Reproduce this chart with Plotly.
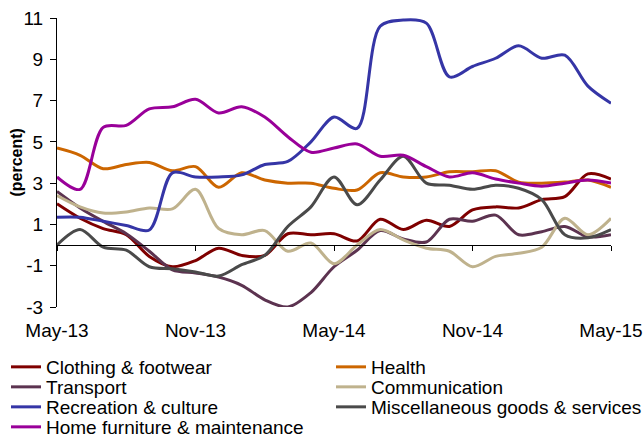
import plotly.graph_objects as go

# monthly categories May-13 .. May-15
months = ["May-13", "Jun-13", "Jul-13", "Aug-13", "Sep-13", "Oct-13", "Nov-13",
          "Dec-13", "Jan-14", "Feb-14", "Mar-14", "Apr-14", "May-14", "Jun-14",
          "Jul-14", "Aug-14", "Sep-14", "Oct-14", "Nov-14", "Dec-14", "Jan-15",
          "Feb-15", "Mar-15", "Apr-15", "May-15"]
tick_labels = ["May-13", "Nov-13", "May-14", "Nov-14", "May-15"]
y_ticks = [-3, -1, 1, 3, 5, 7, 9, 11]
y_tick_text = ["-3", "-1", "1", "3", "5", "7", "9", "11"]

# values (percent)
clothing = [2.0, 1.3, 0.8, 0.5, -0.55, -1.05, -0.75, -0.15, -0.5, -0.5, 0.55, 0.5,
            0.55, 0.2, 1.25, 0.75, 1.2, 0.9, 1.7, 1.85, 1.8, 2.2, 2.35, 3.45, 3.2]
health = [4.7, 4.35, 3.7, 3.9, 4.0, 3.6, 3.8, 2.8, 3.5, 3.15, 3.0, 3.0,
          2.75, 2.67, 3.5, 3.3, 3.3, 3.55, 3.55, 3.6, 3.05, 3.0, 3.05, 3.15, 2.8]
transport = [2.6, 1.8, 1.15, 0.55, -0.3, -1.2, -1.35, -1.55, -1.95, -2.65, -3.0, -2.3,
             -1.05, -0.25, 0.7, 0.3, 0.15, 1.25, 1.15, 1.45, 0.5, 0.65, 0.9, 0.4, 0.5]
communication = [2.4, 1.85, 1.55, 1.6, 1.8, 1.75, 2.7, 0.8, 0.5, 0.7, -0.3, 0.1,
                 -0.9, 0.0, 0.75, 0.25, -0.15, -0.3, -1.05, -0.55, -0.4, -0.1, 1.3, 0.5, 1.3]
recreation = [1.35, 1.35, 1.15, 0.95, 0.73, 3.5, 3.3, 3.3, 3.4, 3.9, 4.05, 5.0,
              6.2, 5.65, 10.6, 10.9, 10.75, 8.15, 8.65, 9.05, 9.65, 9.05, 9.2, 7.7, 6.87]
misc = [0.0, 0.75, -0.1, -0.25, -1.05, -1.15, -1.3, -1.5, -0.95, -0.5, 0.9, 1.85,
        3.3, 1.95, 3.15, 4.3, 3.0, 2.9, 2.7, 2.9, 2.75, 2.2, 0.5, 0.35, 0.75]
home = [3.3, 2.7, 5.7, 5.8, 6.6, 6.7, 7.06, 6.4, 6.7, 6.2, 5.25, 4.5,
        4.7, 4.9, 4.3, 4.35, 3.8, 3.3, 3.5, 3.2, 3.0, 2.85, 3.0, 3.15, 3.0]

series = [
    ("Clothing & footwear", clothing, "#7f0000"),
    ("Health", health, "#cc6600"),
    ("Transport", transport, "#5c3350"),
    ("Communication", communication, "#bfb28d"),
    ("Recreation & culture", recreation, "#3535a6"),
    ("Miscellaneous goods & services", misc, "#4a4a4a"),
    ("Home furniture & maintenance", home, "#990099"),
]

W, H = 644, 437
L, R, T, B = 57, 33, 18, 130
# legend grid: two columns, four rows (one small legend per entry)
col_left = [6, 331]
row_mid = [367, 387, 407, 427]

fig = go.Figure()
legends = {}
for i, (name, vals, color) in enumerate(series):
    key = "legend" if i == 0 else f"legend{i + 1}"
    fig.add_trace(go.Scatter(
        x=months, y=vals, name=name, mode="lines", legend=key,
        line=dict(color=color, width=3, shape="spline", smoothing=0.9),
    ))
    legends[key] = dict(
        x=col_left[i % 2] / W, xanchor="left", xref="container",
        y=1 - row_mid[i // 2] / H, yanchor="middle", yref="container",
        bgcolor="rgba(0,0,0,0)", font=dict(size=19),
    )

# dummy trace so the zero-line axis gets drawn
fig.add_trace(go.Scatter(x=months, y=[None] * len(months), xaxis="x2",
                         showlegend=False, hoverinfo="skip"))

fig.update_layout(
    width=W, height=H,
    margin=dict(l=L, r=R, t=T, b=B, autoexpand=False),
    paper_bgcolor="white", plot_bgcolor="white",
    font=dict(family="Liberation Sans, Arial, sans-serif", size=19, color="black"),
    showlegend=True,
    xaxis=dict(
        type="category", categoryorder="array", categoryarray=months,
        range=[0, 24], tickvals=tick_labels, ticktext=tick_labels,
        showline=False, ticks="", showgrid=False, zeroline=False,
        ticklabelstandoff=10, automargin=False,
    ),
    xaxis2=dict(
        type="category", categoryorder="array", categoryarray=months,
        range=[0, 24], overlaying="x", anchor="free", position=3 / 14,
        tickvals=tick_labels, showticklabels=False,
        showline=True, linecolor="black", linewidth=1,
        ticks="outside", ticklen=5, tickcolor="black", showgrid=False,
        automargin=False,
    ),
    yaxis=dict(
        range=[-3, 11], tickvals=y_ticks, ticktext=y_tick_text,
        showline=True, linecolor="black", linewidth=1,
        ticks="outside", ticklen=6, tickcolor="black",
        showgrid=False, zeroline=False, automargin=False,
        ticklabelstandoff=3,
    ),
    annotations=[dict(
        text="<b>(percent)</b>", textangle=-90, showarrow=False,
        xref="paper", yref="paper", x=(16 - L) / (W - L - R), y=0.5,
        xanchor="center", yanchor="middle", font=dict(size=16),
    )],
    **legends,
)

# drop the default page margin so the figure sits at the window's corner
fig.write_html("out.html", config={"displayModeBar": False},
               post_script="document.body.style.margin='0';")
